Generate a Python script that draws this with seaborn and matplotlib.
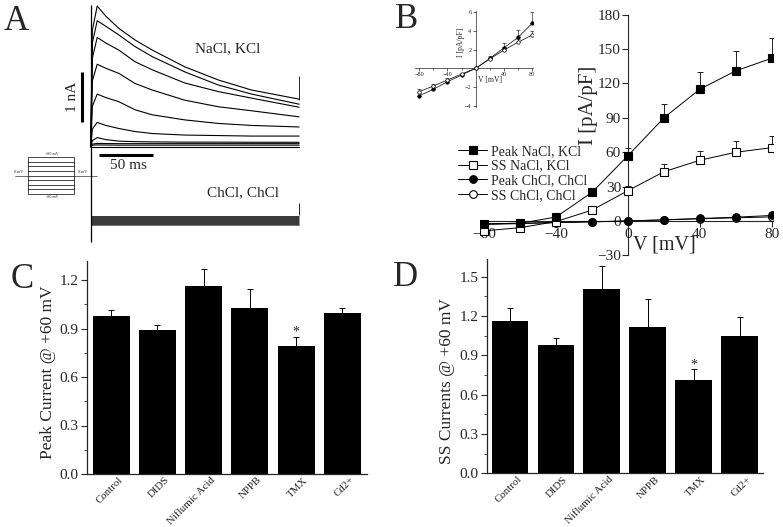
import numpy as np
import pandas as pd
import matplotlib
matplotlib.use("Agg")
import matplotlib.pyplot as plt
import matplotlib.transforms as mtrans
import seaborn as sns
from matplotlib.ticker import MultipleLocator, FixedLocator, FormatStrFormatter

# ---------------- data ----------------
# Panel A: whole-cell current traces (nA) vs time (ms)
trace_time_ms = [0, 1.5, 6, 14, 26, 41, 57, 87, 118, 149, 193]
nacl_trace_1 = [0, 2.30, 2.78, 2.58, 2.34, 2.11, 1.91, 1.58, 1.32, 1.12, 0.94]
nacl_trace_2 = [0, 2.05, 2.49, 2.38, 2.21, 1.98, 1.78, 1.48, 1.22, 1.04, 0.84]
nacl_trace_3 = [0, 1.75, 2.16, 2.05, 1.91, 1.68, 1.52, 1.26, 1.09, 0.96, 0.78]
nacl_trace_4 = [0, 1.30, 1.63, 1.55, 1.45, 1.25, 1.12, 0.92, 0.79, 0.71, 0.59]
nacl_trace_5 = [0, 0.80, 1.04, 0.97, 0.89, 0.73, 0.63, 0.53, 0.46, 0.42, 0.39]
nacl_trace_6 = [0, 0.35, 0.48, 0.42, 0.36, 0.30, 0.26, 0.23, 0.22, 0.21, 0.21]
nacl_trace_7 = [0, 0.12, 0.18, 0.14, 0.11, 0.10, 0.095, 0.09, 0.09, 0.088, 0.087]
nacl_trace_8 = [0, 0.05, 0.065, 0.062, 0.06, 0.06, 0.06, 0.06, 0.06, 0.06, 0.06]
nacl_trace_9 = [0, 0.03, 0.035, 0.033, 0.03, 0.03, 0.03, 0.03, 0.03, 0.03, 0.03]
nacl_trace_10 = [0, 0, 0, 0, 0, 0, 0, 0, 0, 0, 0]
# ChCl/ChCl traces (displayed offset below the NaCl family)
chcl_time_ms = [0, 193]
chcl_trace_levels_nA = [-1.37, -1.39, -1.41, -1.43, -1.45, -1.47, -1.49, -1.51, -1.53, -1.55]
onset_transient_nA = [2.80, -1.88]
nacl_tail_artifact_nA = [0.92, 1.39]
chcl_tail_artifact_nA = [-1.36, -1.12]
scale_bar_nA = 1.0
scale_bar_ms = 50
# voltage protocol
protocol_steps_mV = [-80, -60, -40, -20, 0, 20, 40, 60, 80]
protocol_step_ms = [0, 200]
protocol_hold_before_ms = [-57, 0]
protocol_hold_after_ms = [200, 300]

# Panel B: I-V relations
voltage_mV = [-80, -60, -40, -20, 0, 20, 40, 60, 80]
peak_nacl = [-2.5, -2, 3.5, 25, 57, 90, 115, 131, 142]
peak_nacl_err = [1, 1, 1.5, 2, 7, 12, 15, 17, 18]
ss_nacl = [-8.6, -5.8, -0.5, 9.5, 26.5, 43, 53, 60, 64]
ss_nacl_err = [1, 1, 1, 1.5, 4, 6.5, 8.5, 10, 10]
peak_chcl = [-2.95, -2.26, -1.44, -0.72, 0, 1.07, 2.2, 3.33, 4.84]
peak_chcl_err = [0.35, 0.3, 0.2, 0.1, 0.05, 0.2, 0.55, 0.8, 1.15]
ss_chcl = [-2.5, -1.9, -1.26, -0.61, 0, 1.0, 1.97, 2.8, 3.58]
ss_chcl_err = [0.3, 0.25, 0.2, 0.1, 0.05, 0.15, 0.35, 0.3, 0.46]

# Panels C and D: normalised currents at +60 mV
treatments = ["Control", "DIDS", "Niflumic Acid", "NPPB", "TMX", "Cd2+"]
peak_rel = [0.975, 0.89, 1.165, 1.025, 0.79, 0.998]
peak_rel_err = [0.04, 0.03, 0.10, 0.12, 0.06, 0.027]
ss_rel = [1.165, 0.98, 1.405, 1.12, 0.712, 1.05]
ss_rel_err = [0.095, 0.05, 0.18, 0.21, 0.084, 0.14]
significant = ["TMX"]

# ---------------- figure ----------------
sns.set_style("ticks")
plt.rcParams["font.family"] = ["Liberation Serif", "DejaVu Serif"]
plt.rcParams["axes.linewidth"] = 0.9
plt.rcParams["xtick.major.width"] = 0.9
plt.rcParams["ytick.major.width"] = 0.9

W, H = 783, 527
fig = plt.figure(figsize=(W / 100, H / 100), dpi=100)


def px_axes(x0, y0, x1, y1, z=0):
    a = fig.add_axes([x0 / W, 1 - y1 / H, (x1 - x0) / W, (y1 - y0) / H], zorder=z)
    a.patch.set_alpha(0)
    return a


K = "black"

# ================= Panel A =================
axA = px_axes(0, 0, 320, 260)
axA.set_xlim(-84, 212.3)
axA.set_ylim(-2.24, 2.90)
axA.axis("off")
nacl = [nacl_trace_1, nacl_trace_2, nacl_trace_3, nacl_trace_4, nacl_trace_5,
        nacl_trace_6, nacl_trace_7, nacl_trace_8, nacl_trace_9, nacl_trace_10]
rows = []
for i, tr in enumerate(nacl):
    for t, v in zip(trace_time_ms, tr):
        rows.append({"t": t, "I": v, "trace": f"n{i}"})
dfA = pd.DataFrame(rows)
sns.lineplot(data=dfA, x="t", y="I", units="trace", estimator=None, sort=False,
             color=K, lw=0.8, ax=axA, legend=False)
rowsC = []
for j, lv in enumerate(chcl_trace_levels_nA):
    for t in chcl_time_ms:
        rowsC.append({"t": t, "I": lv, "trace": f"c{j}"})
dfC = pd.DataFrame(rowsC)
axA.fill_between(chcl_time_ms, min(chcl_trace_levels_nA), max(chcl_trace_levels_nA),
                 color="0.45", lw=0)
sns.lineplot(data=dfC, x="t", y="I", units="trace", estimator=None, sort=False,
             color="0.1", lw=0.45, ax=axA, legend=False)
axA.vlines(0, onset_transient_nA[1], onset_transient_nA[0], color=K, lw=0.9)
axA.vlines(trace_time_ms[-1], *nacl_tail_artifact_nA, color=K, lw=0.6)
axA.vlines(trace_time_ms[-1], *chcl_tail_artifact_nA, color=K, lw=0.6)
# scale bars
axA.vlines(-8.3, 0.48, 0.48 + scale_bar_nA, color=K, lw=2.2)
axA.hlines(-0.164, 7.7, 7.7 + scale_bar_ms, color=K, lw=2.2)
axA.text(-17.3, 0.98, "1 nA", rotation=90, ha="center", va="center", fontsize=11)
axA.text(34.5, -0.37, "50 ms", ha="center", va="center", fontsize=11)
axA.text(127, 1.93, "NaCl, KCl", ha="center", va="center", fontsize=11)
axA.text(141, -0.915, "ChCl, ChCl", ha="center", va="center", fontsize=11)

# voltage protocol inset
axP = px_axes(5, 148, 105, 203)
axP.set_xlim(-100, 334.8)
axP.set_ylim(-118.9, 118.9)
axP.axis("off")
for v in protocol_steps_mV:
    axP.plot(protocol_step_ms, [v, v], color=K, lw=0.5)
axP.vlines(protocol_step_ms, min(protocol_steps_mV), max(protocol_steps_mV), color=K, lw=0.5)
axP.plot(protocol_hold_before_ms, [0, 0], color=K, lw=0.4)
axP.plot(protocol_hold_after_ms, [0, 0], color=K, lw=0.4)
axP.text(104, 93, "+80 mV", fontsize=3, ha="center", va="center")
axP.text(104, -93, "-80 mV", fontsize=3, ha="center", va="center")
axP.text(-39, 15, "0 mV", fontsize=3, ha="center", va="center")
axP.text(239, 15, "0 mV", fontsize=3, ha="center", va="center")

# ================= Panel B (main) =================
axB = px_axes(480, 14.7, 773, 255.4, z=1)
axB.set_xlim(-82.3, 80.7)
axB.set_ylim(-30, 180)
for s in ["top", "right"]:
    axB.spines[s].set_visible(False)
axB.spines["left"].set_position(("data", 0))
axB.spines["bottom"].set_position(("data", 0))
axB.spines["left"].set_linewidth(0.8)
axB.spines["bottom"].set_linewidth(0.8)

series = [
    ("Peak NaCl, KCl", peak_nacl, peak_nacl_err, "s", K),
    ("SS NaCl, KCl", ss_nacl, ss_nacl_err, "s", "white"),
    ("Peak ChCl, ChCl", peak_chcl, peak_chcl_err, "o", K),
    ("SS ChCl, ChCl", ss_chcl, ss_chcl_err, "o", "white"),
]
for lab, vals, err, mk, fc in series:
    axB.errorbar(voltage_mV, vals, yerr=[np.zeros(len(err)), err], fmt="none",
                 ecolor=K, elinewidth=0.6, capsize=2.5, capthick=0.6, zorder=2)
for lab, vals, err, mk, fc in series[::-1]:
    sns.lineplot(x=voltage_mV, y=vals, ax=axB, color=K, lw=0.7, marker=mk,
                 markersize=5.5, markerfacecolor=fc, markeredgecolor=K,
                 markeredgewidth=0.8, label=lab, zorder=3, sort=False, estimator=None)
axB.yaxis.set_major_locator(FixedLocator([-30, 0, 30, 60, 90, 120, 150, 180]))
axB.xaxis.set_major_locator(FixedLocator([-80, -40, 0, 40, 80]))
axB.tick_params(axis="both", direction="out", length=4, width=0.8, labelsize=11, pad=1)
axB.set_xlabel("V [mV]", fontsize=14.5)
axB.xaxis.label.set_va("center")
axB.xaxis.set_label_coords(0.628, 0.043)
axB.set_ylabel("I [pA/pF]", fontsize=15)
axB.yaxis.label.set_va("center")
axB.yaxis.set_label_coords(0.372, 0.625)
h, l = axB.get_legend_handles_labels()
order = [l.index(s[0]) for s in series]
axB.legend([h[i] for i in order], [l[i] for i in order], loc="upper left",
           bbox_to_anchor=(458 / W, 1 - 145 / H), bbox_transform=fig.transFigure,
           frameon=False, fontsize=10, handlelength=2.1, handletextpad=0.3,
           labelspacing=0.12, borderpad=0, borderaxespad=0)

# ================= Panel B (inset) =================
axI = px_axes(414.8, 11.4, 533.4, 106.6, z=2)
axI.set_xlim(-86, 81.5)
axI.set_ylim(-4.1, 6.1)
for s in ["top", "right"]:
    axI.spines[s].set_visible(False)
axI.spines["left"].set_position(("data", 0))
axI.spines["bottom"].set_position(("data", 0))
for s in ["left", "bottom"]:
    axI.spines[s].set_linewidth(0.5)
for lab, vals, err, mk, fc in series[2:]:
    axI.errorbar(voltage_mV, vals, yerr=[np.zeros(len(err)), err], fmt="none",
                 ecolor=K, elinewidth=0.4, capsize=1.2, capthick=0.4, zorder=2)
    sns.lineplot(x=voltage_mV, y=vals, ax=axI, color=K, lw=0.5, marker=mk,
                 markersize=2.5, markerfacecolor=fc, markeredgecolor=K,
                 markeredgewidth=0.5, zorder=3, sort=False, estimator=None, legend=False)
axI.xaxis.set_major_locator(FixedLocator([-80, -40, 40, 80]))
axI.xaxis.set_minor_locator(FixedLocator([-60, -20, 20, 60]))
axI.yaxis.set_major_locator(FixedLocator([-4, -2, 2, 4, 6]))
axI.tick_params(axis="both", which="major", direction="out", length=2, width=0.5,
                labelsize=4.5, pad=1)
axI.tick_params(axis="both", which="minor", direction="out", length=1.2, width=0.4)
axI.set_xlabel("V [mV]", fontsize=5.5)
axI.xaxis.label.set_va("center")
axI.xaxis.set_label_coords(0.634, 0.28)
axI.set_ylabel("I [pA/pF]", fontsize=5.5)
axI.yaxis.label.set_va("center")
axI.yaxis.set_label_coords(0.39, 0.673)


# ================= Panels C and D =================
def bar_panel(ax, vals, errs, ylim_top, ymax_tick, ylabel, lab_xy):
    sns.barplot(x=treatments, y=vals, color=K, width=0.8, ax=ax, saturation=1,
                edgecolor=K, linewidth=0)
    ax.errorbar(range(len(vals)), vals, yerr=[np.zeros(len(errs)), errs], fmt="none",
                ecolor=K, elinewidth=0.7, capsize=2.5, capthick=0.7, zorder=1)
    for i, (v, e) in enumerate(zip(vals, errs)):
        if treatments[i] in significant:
            ax.annotate("*", xy=(i, v + e), xytext=(0, 3), textcoords="offset points",
                        ha="center", va="center", fontsize=10)
    ax.set_ylim(0, ylim_top)
    sns.despine(ax=ax)
    ax.yaxis.set_minor_locator(MultipleLocator(0.15))
    ax.set_yticks([t for t in np.arange(0, ymax_tick + 0.01, 0.3)])
    ax.yaxis.set_major_formatter(FormatStrFormatter("%.1f"))
    ax.tick_params(axis="y", which="major", direction="out", length=4, width=0.8,
                   labelsize=11, pad=2)
    ax.tick_params(axis="y", which="minor", direction="out", length=2, width=0.6)
    ax.tick_params(axis="x", length=0, pad=1)
    ax.set_xticks(range(len(treatments)))
    ax.set_xticklabels(treatments, rotation=45, ha="right", rotation_mode="anchor",
                       fontsize=7.8)
    off = mtrans.ScaledTranslation(7 / 100, 0, fig.dpi_scale_trans)
    for lbl in ax.get_xticklabels():
        lbl.set_transform(lbl.get_transform() + off)
    ax.set_xlabel("")
    ax.set_ylabel(ylabel, fontsize=12.5)
    ax.yaxis.label.set_va("center")
    ax.yaxis.set_label_coords(*lab_xy)


axC = px_axes(87, 260.6, 367, 474)
bar_panel(axC, peak_rel, peak_rel_err, 1.32, 1.2, "Peak Current @ +60 mV", (-0.139, 0.478))
axC.set_xlim(-0.52, 5.53)

axD = px_axes(487, 258.5, 763, 473.3)
bar_panel(axD, ss_rel, ss_rel_err, 1.64, 1.5, "SS Currents @ +60 mV", (-0.145, 0.43))
axD.set_xlim(-0.5, 5.51)

# panel letters
for letter, (x, y) in {"A": (16, 21), "B": (407, 19), "C": (22, 280), "D": (406, 278)}.items():
    fig.text(x / W, 1 - y / H, letter, fontsize=25, ha="center", va="center")

fig.savefig("out.png", dpi=100)
